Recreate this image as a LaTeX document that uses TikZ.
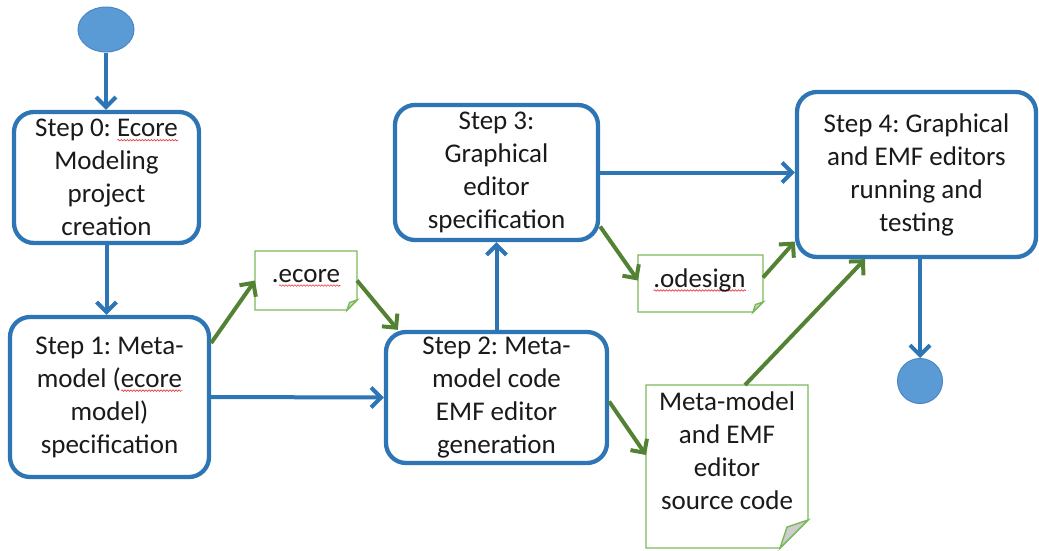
\documentclass[tikz,border=0pt]{standalone}
\usepackage{fontspec}
\setmainfont{Carlito}
\usetikzlibrary{arrows.meta,shapes.geometric,decorations.pathmorphing}
\frenchspacing

\definecolor{boxblue}{HTML}{2E75B6}
\definecolor{dotblue}{HTML}{5B9BD5}
\definecolor{dotedge}{HTML}{4A86C5}
\definecolor{argreen}{HTML}{548235}
\definecolor{notegreen}{HTML}{7CB95B}
\definecolor{foldgreen}{HTML}{C5E0B4}
\definecolor{foldgray}{HTML}{CDCDCD}
\definecolor{txt}{HTML}{1A1A1A}
\definecolor{squigred}{HTML}{E8383D}

% red wavy underline under a word
\newsavebox\squigbox
\newdimen\squigwd
\newcommand\squig[1]{\sbox\squigbox{#1}\squigwd=\wd\squigbox\leavevmode
  \rlap{\tikz[baseline=0pt]\draw[squigred,line width=0.6pt,sharp corners,
    decorate,decoration={snake,amplitude=0.8pt,segment length=3pt}]
    (0pt,-3.5pt) -- (\squigwd,-3.5pt);}\usebox\squigbox}

% outline of a note with a folded bottom-right corner
\newcommand\foldnote[3]{%
  \draw[noteline] (#1.north west) -- (#1.north east) -- ([yshift=#2]#1.south east)
    -- ([xshift=-#2]#1.south east) -- (#1.south west) -- cycle;
  \filldraw[noteline,fill=#3] ([xshift=-#2]#1.south east)
    -- ([xshift=-0.75*#2,yshift=0.75*#2]#1.south east)
    -- ([yshift=#2]#1.south east) -- cycle;}

\tikzset{
  stepbox/.style={draw=boxblue, line width=4.3pt, rounded corners=20pt, fill=white,
    inner sep=0pt, align=center, text=txt, font=\fontsize{27}{33}\selectfont},
  notebox/.style={inner sep=0pt, outer sep=0pt},
  notetext/.style={inner sep=0pt, align=center, text=txt, font=\fontsize{27}{33}\selectfont},
  noteline/.style={draw=notegreen, line width=1.4pt, fill=white},
  flow/.style={draw=boxblue, line width=4pt, -{Straight Barb[length=10pt,width=20pt]}},
  dataflow/.style={draw=argreen, line width=4pt, -{Straight Barb[length=10pt,width=20pt]}},
}

\begin{document}
\begin{tikzpicture}[x=1pt,y=-1pt]
\useasboundingbox (0,0) rectangle (1039,550);

% start and end markers
\node[ellipse, minimum width=56pt, minimum height=45pt, inner sep=0pt,
  fill=dotblue, draw=dotedge, line width=1pt] (start) at (106,29.5) {};
\node[circle, minimum size=45pt, inner sep=0pt,
  fill=dotblue, draw=dotedge, line width=1pt] (end) at (920,381) {};

% process steps
\node[stepbox, minimum width=185pt, minimum height=131pt] (s0) at (106.5,177.5)
  {Step 0: \squig{Ecore}\\Modeling\\project\\creation};
\node[stepbox, minimum width=199pt, minimum height=160pt] (s1) at (109.5,397)
  {Step 1: Meta-\\model (\squig{ecore}\\model)\\specification};
\node[stepbox, minimum width=221pt, minimum height=131pt] (s2) at (496.5,397.5)
  {Step 2: Meta-\\model code\\EMF editor\\generation};
\node[stepbox, minimum width=203pt, minimum height=135pt] (s3) at (496.5,172.5)
  {Step 3:\\Graphical\\editor\\specification};
\node[stepbox, minimum width=239pt, minimum height=165pt] (s4) at (916.5,174.5)
  {Step 4: Graphical\\and EMF editors\\running and\\testing};

% artefact notes
\node[notebox, minimum width=102pt, minimum height=59pt] (ecore) at (306,280.5) {};
\node[notebox, minimum width=125pt, minimum height=57pt] (odesign) at (700.5,283.5) {};
\node[notebox, minimum width=162pt, minimum height=163pt] (meta) at (727,466.5) {};
\foldnote{ecore}{10pt}{foldgreen}
\foldnote{odesign}{10pt}{foldgreen}
\foldnote{meta}{28pt}{foldgray}
\node[notetext, anchor=base] (ecoretext) at (306,282) {.\squig{ecore}};
\node[notetext, anchor=base] (odesigntext) at (699.5,287) {\squig{.odesign}};
\node[notetext] (metatext) at (727,451) {Meta-model\\and EMF\\editor\\source code};

% control flow
\draw[flow] (start.south) -- (start.south |- s0.north);
\draw[flow] (s0.south) -- (s0.south |- s1.north);
\draw[flow] (s1.east) -- (s2.west);
\draw[flow] (s2.north) -- (s3.south);
\draw[flow] (s3.east) -- (s3.east -| s4.west);
\draw[flow] (end.north |- s4.south) -- (end.north);

% artefact flow
\draw[dataflow] ([yshift=54pt]s1.east) -- (ecore.west);
\draw[dataflow] (ecore.east) -- ([xshift=14pt]s2.north west);
\draw[dataflow] ([yshift=-54pt]s3.east) -- ([yshift=3pt]odesign.west);
\draw[dataflow] ([yshift=6pt]odesign.east) -- ([yshift=-67pt]s4.west);
\draw[dataflow] ([yshift=-4pt]s2.east) -- ([yshift=11.5pt]meta.west);
\draw[dataflow] ([xshift=18pt]meta.north) -- ([xshift=-51.5pt]s4.south);
\end{tikzpicture}
\end{document}
